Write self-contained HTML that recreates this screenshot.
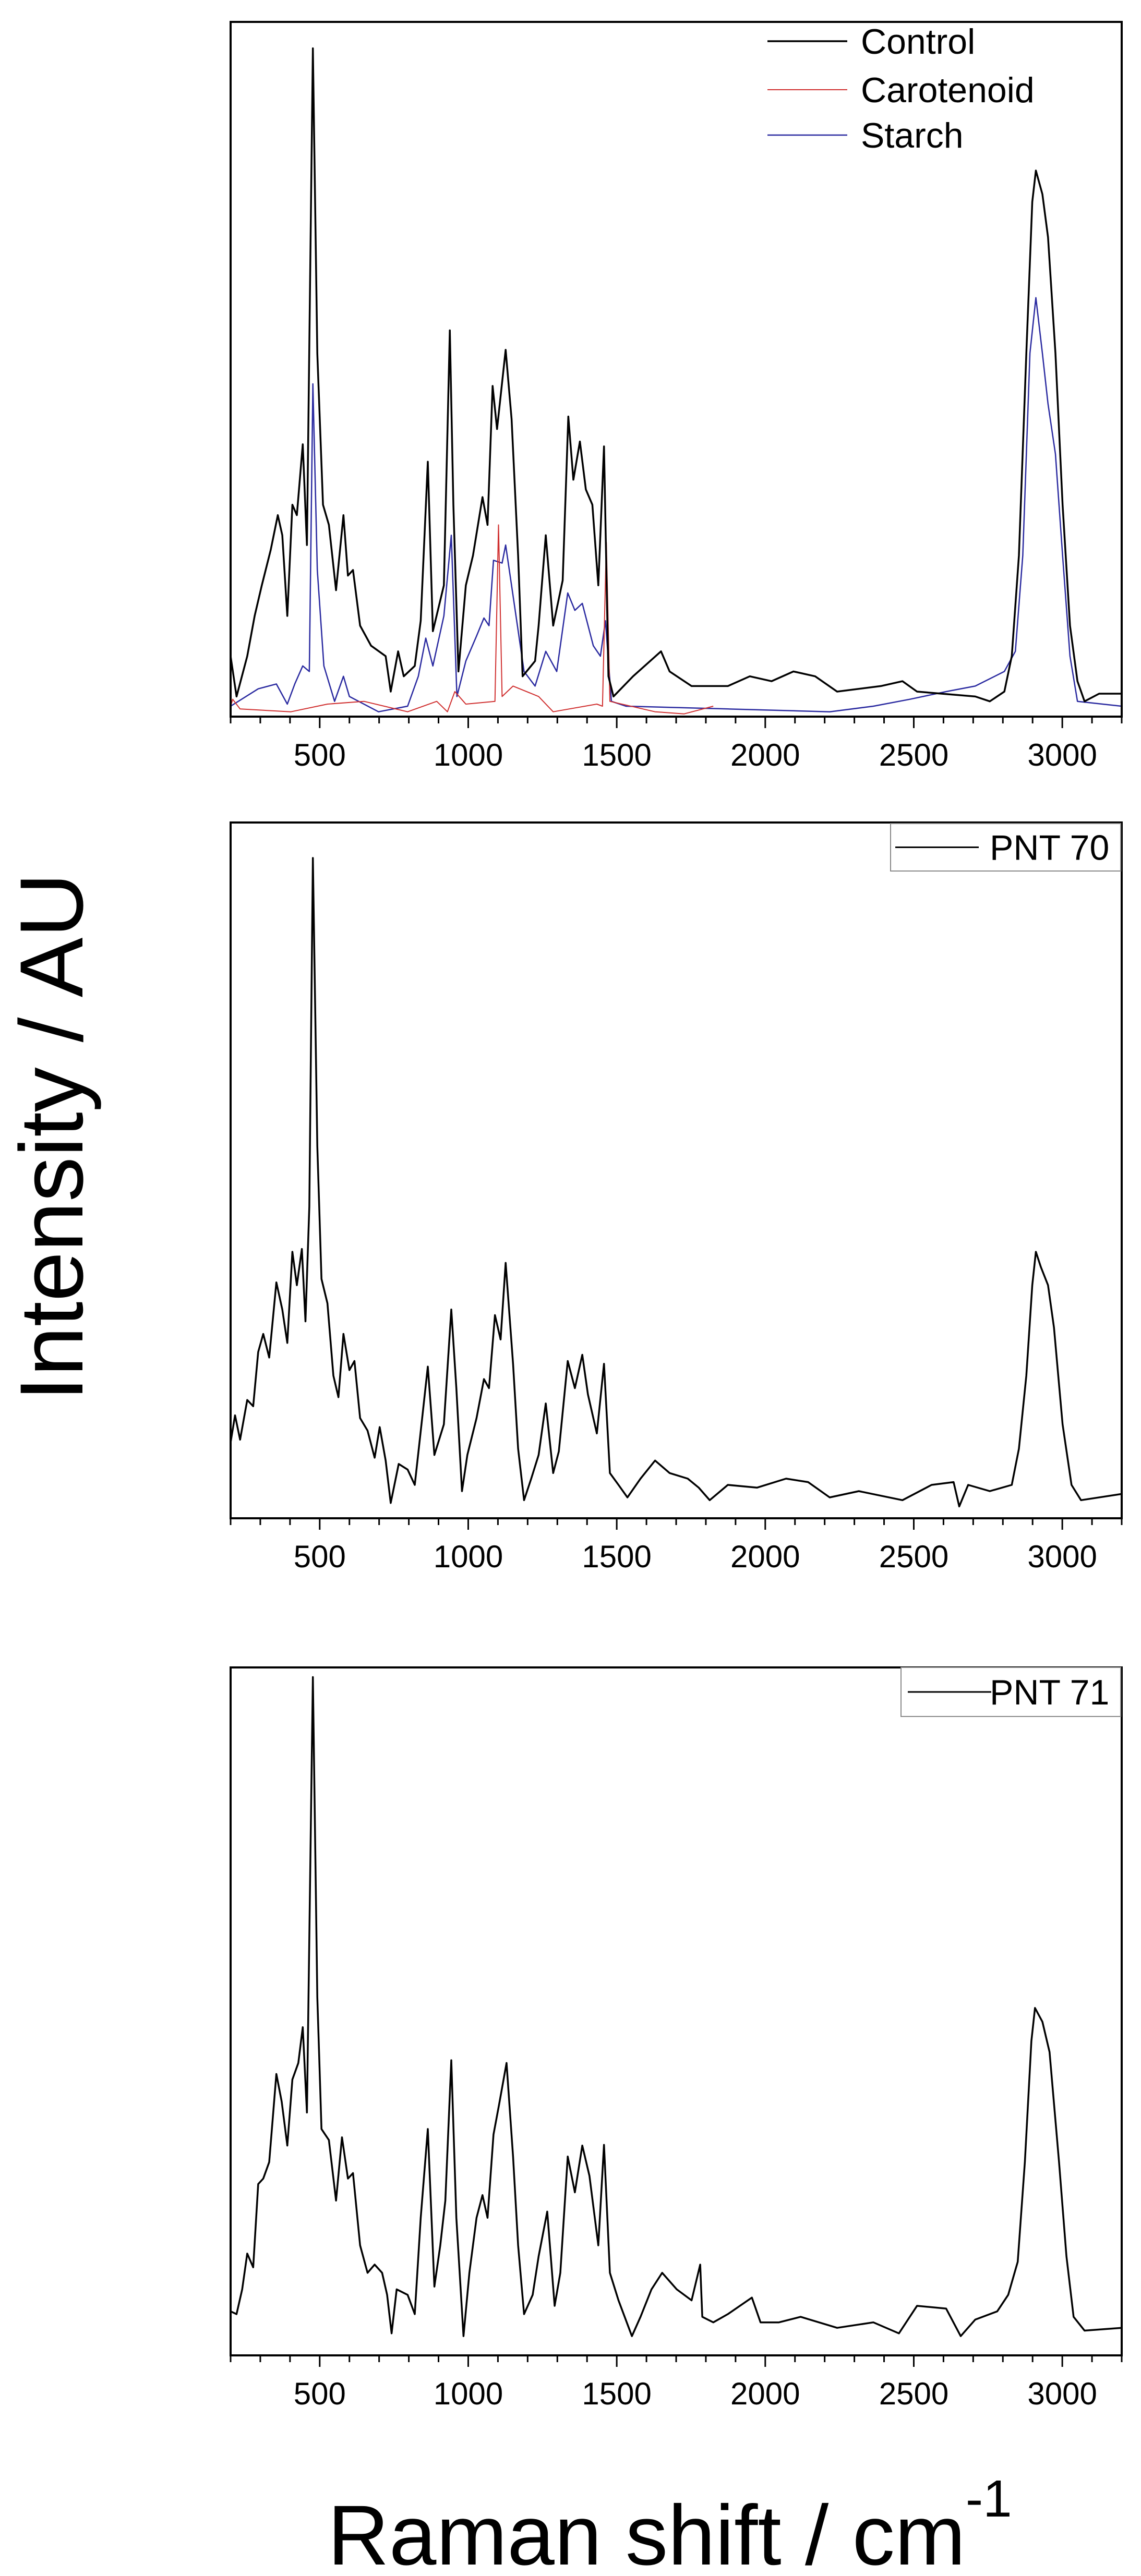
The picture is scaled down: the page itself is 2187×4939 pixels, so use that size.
<!DOCTYPE html>
<html><head><meta charset="utf-8"><style>
html,body{margin:0;padding:0;background:#fff}
svg{display:block}
text{font-family:"Liberation Sans",Arial,sans-serif;fill:#000}
</style></head><body>
<svg id="chart" width="2187" height="4939" viewBox="0 0 2187 4939" xmlns="http://www.w3.org/2000/svg">
<text x="0" y="0" font-size="172" text-anchor="middle" transform="translate(158,2180) rotate(-90)">Intensity / AU</text>
<text x="628" y="4917" font-size="163">Raman shift / cm<tspan font-size="100" dy="-92">-1</tspan></text>
</svg>
<script>
const xTicks=[500,1000,1500,2000,2500,3000];
const ctrlX=[200,220,256,281,305,335,359,374,391,408,423,443,457,477,492,511,531,555,580,595,612,636,673,722,739,764,783,820,840,864,881,918,938,950,967,992,1016,1048,1065,1082,1097,1126,1146,1168,1183,1225,1237,1261,1286,1318,1337,1354,1376,1396,1418,1438,1457,1472,1489,1555,1649,1678,1752,1874,1948,2021,2095,2168,2242,2389,2462,2511,2707,2756,2805,2830,2854,2879,2899,2911,2933,2952,2977,3001,3026,3051,3075,3124,3200];
const ctrlY=[8.7,2.9,8.7,14.5,18.9,24.0,29.0,26.1,14.5,30.5,29.0,39.2,24.7,96.2,52.3,30.5,27.6,18.2,29.0,20.3,21.1,13.1,10.2,8.7,3.6,9.4,5.8,7.3,13.8,36.7,12.3,18.9,55.6,30.5,6.5,18.9,23.2,31.6,27.6,47.6,41.4,52.8,42.8,23.2,5.8,8.0,13.1,26.1,13.1,19.6,43.2,34.1,39.6,32.7,30.5,18.9,38.9,5.8,2.9,5.8,9.4,6.5,4.4,4.4,5.8,5.1,6.5,5.8,3.6,4.4,5.1,3.6,2.9,2.2,3.6,8.7,23.2,52.3,74.1,78.6,75.2,69.0,52.3,30.5,13.1,5.1,2.2,3.3,3.3];
const starchX=[200,293,354,391,416,443,465,477,492,514,550,580,600,698,796,832,857,881,918,943,962,992,1028,1053,1070,1085,1114,1126,1151,1188,1225,1261,1298,1335,1359,1384,1421,1445,1462,1482,1531,1874,2217,2364,2487,2609,2707,2805,2842,2867,2891,2911,2933,2952,2977,3001,3026,3051,3200];
const starchY=[1.5,4.0,4.7,1.8,4.7,7.3,6.5,47.9,21.1,7.3,2.2,5.8,2.9,0.7,1.5,5.8,11.3,7.3,14.5,26.1,2.9,8.0,11.6,14.2,13.1,22.5,22.1,24.7,17.4,6.5,4.4,9.4,6.5,17.8,15.3,16.3,10.2,8.7,13.8,2.2,1.5,1.1,0.7,1.5,2.5,3.6,4.4,6.5,9.4,23.2,52.3,60.3,52.3,45.0,37.8,23.2,8.7,2.2,1.5];
const carotX=[200,207,232,403,526,649,796,894,930,955,992,1090,1102,1114,1151,1237,1286,1433,1452,1465,1477,1629,1727,1825];
const carotY=[1.5,2.5,1.1,0.7,1.8,2.2,0.7,2.2,0.7,3.6,1.8,2.2,27.6,2.9,4.4,2.9,0.7,1.8,1.5,25.1,2.2,0.7,0.4,1.5];
const p70X=[200,215,232,256,276,293,310,330,354,374,391,408,423,440,452,465,477,492,506,526,546,563,580,600,617,636,661,685,702,722,739,766,796,820,845,864,886,918,943,960,979,997,1028,1053,1070,1090,1109,1126,1151,1168,1188,1212,1237,1261,1286,1305,1335,1359,1384,1403,1433,1457,1477,1506,1536,1580,1629,1678,1739,1776,1813,1874,1972,2070,2144,2217,2315,2462,2560,2634,2653,2683,2756,2830,2854,2879,2899,2911,2928,2952,2972,3001,3031,3063,3200];
const p70Y=[10.9,14.8,11.3,17.0,16.1,23.9,26.5,23.1,33.9,30.0,25.2,38.3,33.5,38.7,28.3,44.8,94.9,53.5,34.4,30.9,20.5,17.4,26.5,21.3,22.6,14.4,12.6,8.7,13.1,8.3,2.2,7.8,7.0,4.8,14.4,21.8,9.1,13.5,30.0,18.7,3.9,9.1,14.4,20.0,18.7,29.2,25.7,36.7,22.2,10.0,2.6,5.7,9.1,16.5,6.5,9.6,22.6,18.7,23.5,17.8,12.2,22.2,6.5,4.8,3.0,5.7,8.3,6.5,5.7,4.4,2.6,4.8,4.4,5.7,5.2,3.0,3.9,2.6,4.8,5.2,1.7,4.8,3.9,4.8,10.0,20.5,33.5,38.3,36.1,33.5,27.4,13.5,4.8,2.6,3.5];
const p71X=[200,220,239,256,276,293,310,330,354,372,391,408,428,443,457,477,492,506,531,555,575,595,612,636,661,685,710,727,742,759,796,820,840,864,886,906,923,943,960,984,1004,1028,1048,1065,1085,1104,1129,1151,1168,1188,1217,1237,1266,1291,1310,1335,1359,1384,1408,1438,1457,1477,1506,1551,1580,1617,1653,1702,1752,1781,1788,1825,1874,1955,1984,2046,2119,2242,2364,2450,2511,2609,2658,2707,2781,2818,2850,2874,2896,2908,2933,2957,2989,3014,3038,3075,3200];
const p71Y=[6.4,6.0,9.6,14.8,12.8,24.9,25.7,28.1,40.9,36.9,30.5,40.1,42.5,47.7,35.3,98.6,52.1,32.9,31.3,22.5,31.7,25.7,26.5,16.0,12.0,13.2,12.0,8.8,3.2,9.6,8.8,6.0,20.0,32.9,10.0,16.0,22.5,42.9,20.0,2.8,12.0,20.0,23.3,20.0,32.1,36.5,42.5,28.9,16.0,6.0,8.8,14.4,20.9,7.2,12.0,28.9,23.7,30.5,26.1,16.0,30.6,12.0,8.0,2.8,5.6,9.6,12.0,9.6,8.0,13.2,5.6,4.8,6.0,8.4,4.8,4.8,5.6,4.0,4.8,3.2,7.2,6.8,2.8,5.2,6.4,8.8,13.6,28.1,45.7,50.5,48.5,44.1,28.1,14.4,5.6,3.6,4.0];

const NS='http://www.w3.org/2000/svg';
const svg=document.getElementById('chart');
const L=442,R=2150,XMIN=200,XMAX=3200;
function sx(v){return L+(v-XMIN)/(XMAX-XMIN)*(R-L);}
function mk(tag,attrs,parent){const e=document.createElementNS(NS,tag);for(const k in attrs)e.setAttribute(k,attrs[k]);(parent||svg).appendChild(e);return e;}

function panel(name,top,bot,series){
  const g=mk('g',{});
  
  
  const sy=v=>bot-v/100*(bot-top);
  const clipId='clip-'+name;
  const cp=mk('clipPath',{id:clipId},g);
  mk('rect',{x:L,y:top-40,width:R-L,height:bot-top+40},cp);
  series.forEach(s=>{
    let d='';
    s.x.forEach((v,i)=>{d+=(i?'L':'M')+sx(v).toFixed(1)+','+sy(s.y[i]).toFixed(1);});
    const p=mk('path',{d:d,fill:'none',stroke:s.c,'stroke-width':s.w,'stroke-linejoin':'round','clip-path':'url(#'+clipId+')'},g);
    
    
  });
  const fr=mk('rect',{x:L,y:top,width:R-L,height:bot-top,fill:'none',stroke:'#000','stroke-width':4},g);
  
  
  for(let v=XMIN;v<=XMAX;v+=100){
    const major=v%500===0;
    const t=mk('line',{x1:sx(v),x2:sx(v),y1:bot,y2:bot+(major?22:13),stroke:'#000','stroke-width':3},g);
    
    
  }
  xTicks.forEach(v=>{
    const t=mk('text',{x:sx(v),y:bot+94,'font-size':60,'text-anchor':'middle'},g);
    
    
    t.textContent=v;
  });
  return g;
}
panel('panel-reference',42,1374,[
  {n:'starch-line',x:starchX,y:starchY,c:'#2a2aa0',w:2.5},
  {n:'carotenoid-line',x:carotX,y:carotY,c:'#d03030',w:2},
  {n:'control-line',x:ctrlX,y:ctrlY,c:'#000',w:3.5}]);
panel('panel-pnt70',1577,2911,[{n:'pnt70-line',x:p70X,y:p70Y,c:'#000',w:3.5}]);
panel('panel-pnt71',3197,4516,[{n:'pnt71-line',x:p71X,y:p71Y,c:'#000',w:3.5}]);

// legend panel 1
const legItems=[['Control','#000',79,3.5],['Carotenoid','#d03030',172,2],['Starch','#2a2aa0',259,2.5]];
legItems.forEach(it=>{
  const g=mk('g',{});
  
  
  mk('line',{x1:1471,x2:1624,y1:it[2],y2:it[2],stroke:it[1],'stroke-width':it[3]},g);
  const t=mk('text',{x:1650,y:it[2]+24,'font-size':68},g);
  t.textContent=it[0];
});
[['PNT 70',1579,1670,1707,1716,1876,1897],['PNT 71',3197,3291,1727,1740,1900,1897]].forEach(it=>{
  const g=mk('g',{});
  
  
  mk('rect',{x:it[3],y:it[1],width:2148-it[3],height:it[2]-it[1],fill:'#fff',stroke:'#888','stroke-width':2},g);
  const my=(it[1]+it[2])/2;
  mk('line',{x1:it[4],x2:it[5],y1:my,y2:my,stroke:'#000','stroke-width':3},g);
  const t=mk('text',{x:it[6],y:my+24,'font-size':68},g);
  t.textContent=it[0];
});
</script>
</body></html>
